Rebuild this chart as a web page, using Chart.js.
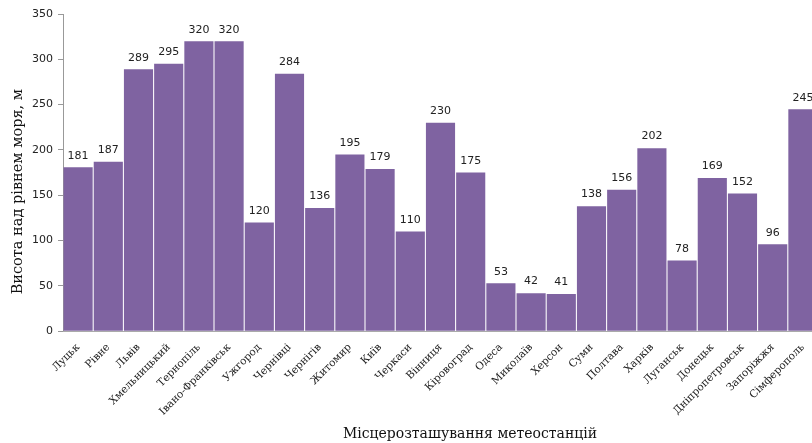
<!DOCTYPE html>
<html>
<head>
<meta charset="utf-8">
<script src="https://cdn.jsdelivr.net/npm/chart.js@4/dist/chart.umd.min.js"></script>
<style>
html,body{margin:0;padding:0;background:#fff;overflow:hidden;}
#wrap{width:812px;height:443px;overflow:hidden;position:relative;}
canvas{display:block;}
</style>
</head>
<body>
<div id="wrap"><canvas id="c" width="940" height="443"></canvas></div>
<script>
const stations = ["Луцьк","Рівне","Львів","Хмельницький","Тернопіль","Івано-Франківськ","Ужгород","Чернівці","Чернігів","Житомир","Київ","Черкаси","Вінниця","Кіровоград","Одеса","Миколаїв","Херсон","Суми","Полтава","Харків","Луганськ","Донецьк","Дніпропетровськ","Запоріжжя","Сімферополь"];
const heights = [181,187,289,295,320,320,120,284,136,195,179,110,230,175,53,42,41,138,156,202,78,169,152,96,245];
const yTitle = "Висота над рівнем моря, м";
const xTitle = "Місцерозташування метеостанцій";

const valueLabels = {
  id: 'valueLabels',
  afterDatasetsDraw(chart) {
    const ctx = chart.ctx;
    const meta = chart.getDatasetMeta(0);
    ctx.save();
    ctx.font = '11px "DejaVu Sans"';
    ctx.fillStyle = '#222';
    ctx.textAlign = 'center';
    ctx.textBaseline = 'bottom';
    meta.data.forEach((bar, i) => {
      ctx.fillText(String(heights[i]), bar.x, bar.y - 6);
    });
    ctx.restore();
  }
};

const yAxisTitle = {
  id: 'yAxisTitle',
  afterDraw(chart) {
    const ctx = chart.ctx;
    const ys = chart.scales.y;
    const ca = chart.chartArea;
    ctx.save();
    ctx.translate(ys.left + 18, (ca.top + ca.bottom) / 2 + 19);
    ctx.rotate(-Math.PI / 2);
    ctx.font = '14.5px "DejaVu Serif"';
    ctx.fillStyle = '#111';
    ctx.textAlign = 'center';
    ctx.textBaseline = 'middle';
    ctx.fillText(yTitle, 0, 0);
    ctx.restore();
  }
};

new Chart(document.getElementById('c'), {
  type: 'bar',
  data: {
    labels: stations,
    datasets: [{
      data: heights,
      backgroundColor: '#7F63A1',
      borderWidth: 0,
      barPercentage: 1,
      categoryPercentage: 0.965
    }]
  },
  options: {
    responsive: false,
    animation: false,
    devicePixelRatio: 1,
    layout: { padding: { top: 14, right: 0, left: 0, bottom: 0 } },
    plugins: {
      legend: { display: false },
      tooltip: { enabled: false },
      title: {
        display: true,
        position: 'bottom',
        text: xTitle,
        color: '#111',
        font: { family: '"DejaVu Serif"', size: 14, weight: 'normal' },
        padding: { top: 0, bottom: 0 }
      }
    },
    scales: {
      y: {
        min: 0, max: 350,
        ticks: { stepSize: 50, color: '#222', font: { family: '"DejaVu Sans"', size: 11 }, padding: 5 },
        grid: { display: true, drawOnChartArea: false, drawTicks: true, tickLength: 5, color: '#999' },
        border: { display: true, color: '#999' },
        title: { display: false },
        afterFit(s) { s.width = 63; }
      },
      yPad: {
        position: 'right',
        display: true,
        min: 0, max: 350,
        ticks: { display: false },
        grid: { display: false },
        border: { display: false },
        afterFit(s) { s.width = 122; }
      },
      x: {
        ticks: {
          minRotation: 45, maxRotation: 45, autoSkip: false, color: '#222', padding: 2,
          font: { family: '"DejaVu Serif"', size: 10.5 }
        },
        grid: { display: false },
        border: { display: true, color: '#aaa' },
        afterFit(s) { s.height = 95; }
      }
    }
  },
  plugins: [valueLabels, yAxisTitle]
});
</script>
</body>
</html>
